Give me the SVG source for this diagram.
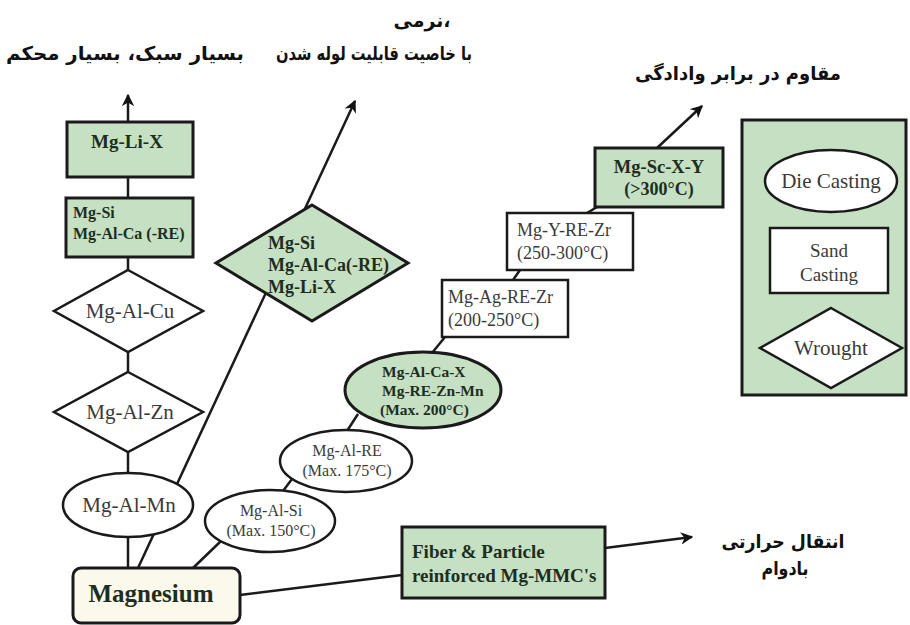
<svg xmlns="http://www.w3.org/2000/svg" width="910" height="625" viewBox="0 0 910 625">
<defs>
<marker id="ah" viewBox="0 0 10 10" refX="9" refY="5" markerWidth="5" markerHeight="5" orient="auto" markerUnits="strokeWidth">
<path d="M0,0 L10,5 L0,10 L3,5 z" fill="#111"/>
</marker>
<style>
.g{fill:#c6e0c4;stroke:#1a1a1a;stroke-width:3}
.w{fill:#fff;stroke:#1a1a1a;stroke-width:2.5}
.ln{stroke:#1a1a1a;stroke-width:2.5;fill:none}
.ar{stroke:#1a1a1a;stroke-width:2.5;fill:none;marker-end:url(#ah)}
.t{font-family:"Liberation Serif","Times New Roman",serif;fill:#3a3a3a}
.tb{font-family:"Liberation Serif","Times New Roman",serif;font-weight:bold;fill:#1e2e1e}
.fa{font-family:"DejaVu Sans","Noto Sans",sans-serif;font-weight:bold;fill:#111;font-size:19px}
</style>
</defs>
<rect width="910" height="625" fill="#fff"/>

<g id="connectors">
<line class="ar" x1="128" y1="122" x2="128" y2="95"/>
<line class="ln" x1="128" y1="177" x2="128" y2="198"/>
<line class="ln" x1="128" y1="257" x2="128" y2="270"/>
<line class="ln" x1="128" y1="352" x2="128" y2="372"/>
<line class="ln" x1="128" y1="452" x2="128" y2="473"/>
<line class="ln" x1="128" y1="537" x2="128" y2="568"/>
<line class="ar" x1="138" y1="568" x2="355" y2="101"/>
<line class="ln" x1="193" y1="568" x2="221" y2="541"/>
<line class="ln" x1="283" y1="491" x2="292" y2="479"/>
<line class="ln" x1="347" y1="431" x2="358" y2="414"/>
<line class="ln" x1="432" y1="353" x2="445" y2="337"/>
<line class="ln" x1="513" y1="280" x2="520" y2="270"/>
<line class="ln" x1="587" y1="213" x2="597" y2="207"/>
<line class="ar" x1="657" y1="148" x2="702" y2="106"/>
<line class="ln" x1="240" y1="595" x2="402" y2="575"/>
<line class="ar" x1="605" y1="548" x2="692" y2="537"/>
</g>

<g id="lbl-light">
<text class="fa" x="125" y="60" text-anchor="middle" textLength="238" lengthAdjust="spacingAndGlyphs">بسیار سبک، بسیار محکم</text>
</g>
<g id="lbl-ductile">
<text class="fa" x="422" y="27" text-anchor="middle">نرمی،</text>
<text class="fa" x="374" y="60" text-anchor="middle" textLength="196" lengthAdjust="spacingAndGlyphs">با خاصیت قابلیت لوله شدن</text>
</g>
<g id="lbl-creep">
<text class="fa" x="738" y="80" text-anchor="middle" textLength="206" lengthAdjust="spacingAndGlyphs">مقاوم در برابر وادادگی</text>
</g>
<g id="lbl-thermal">
<text class="fa" x="783" y="548" text-anchor="middle" textLength="123" lengthAdjust="spacingAndGlyphs">انتقال حرارتی</text>
<text class="fa" x="785" y="575" text-anchor="middle" textLength="47" lengthAdjust="spacingAndGlyphs">بادوام</text>
</g>

<g id="mg-li-x">
<rect class="g" x="67" y="122" width="126" height="55"/>
<text class="tb" x="127" y="148" text-anchor="middle" font-size="19">Mg-Li-X</text>
</g>
<g id="mg-si-box">
<rect class="g" x="66" y="198" width="127" height="59"/>
<text class="tb" x="73" y="218" font-size="16">Mg-Si</text>
<text class="tb" x="73" y="239" font-size="16">Mg-Al-Ca (-RE)</text>
</g>
<g id="mg-al-cu">
<polygon class="w" points="128,270 203,311 128,352 54,311"/>
<text class="t" x="130" y="318" text-anchor="middle" font-size="21">Mg-Al-Cu</text>
</g>
<g id="mg-al-zn">
<polygon class="w" points="128,372 203,412 128,452 54,412"/>
<text class="t" x="130" y="419" text-anchor="middle" font-size="21">Mg-Al-Zn</text>
</g>
<g id="mg-al-mn">
<ellipse class="w" cx="128" cy="505" rx="65" ry="32"/>
<text class="t" x="129" y="512" text-anchor="middle" font-size="21">Mg-Al-Mn</text>
</g>
<g id="magnesium">
<rect x="73" y="568" width="167" height="55" rx="8" fill="#fbf8ec" stroke="#1a1a1a" stroke-width="3"/>
<text class="tb" x="151" y="602" text-anchor="middle" font-size="25" fill="#111">Magnesium</text>
</g>
<g id="mg-si-diamond">
<polygon class="g" points="312,205 408,263 312,321 216,263"/>
<text class="tb" x="268" y="249" font-size="18">Mg-Si</text>
<text class="tb" x="268" y="271" font-size="18">Mg-Al-Ca(-RE)</text>
<text class="tb" x="268" y="293" font-size="18">Mg-Li-X</text>
</g>
<g id="mg-al-si">
<ellipse class="w" cx="270" cy="521" rx="65" ry="31"/>
<text class="t" x="271" y="516" text-anchor="middle" font-size="16">Mg-Al-Si</text>
<text class="t" x="271" y="536" text-anchor="middle" font-size="16">(Max.  150°C)</text>
</g>
<g id="mg-al-re">
<ellipse class="w" cx="346" cy="461" rx="66" ry="31"/>
<text class="t" x="347" y="456" text-anchor="middle" font-size="16">Mg-Al-RE</text>
<text class="t" x="347" y="476" text-anchor="middle" font-size="16">(Max.  175°C)</text>
</g>
<g id="mg-al-ca-x">
<ellipse class="g" cx="423" cy="390" rx="78" ry="38"/>
<text class="tb" x="382" y="377" font-size="15.5">Mg-Al-Ca-X</text>
<text class="tb" x="382" y="396" font-size="15.5">Mg-RE-Zn-Mn</text>
<text class="tb" x="380" y="415" font-size="15.5">(Max. 200°C)</text>
</g>
<g id="mg-ag-re-zr">
<rect class="w" x="442" y="280" width="126" height="57"/>
<text class="t" x="448" y="303" font-size="18">Mg-Ag-RE-Zr</text>
<text class="t" x="448" y="326" font-size="18">(200-250°C)</text>
</g>
<g id="mg-y-re-zr">
<rect class="w" x="507" y="213" width="126" height="57"/>
<text class="t" x="517" y="236" font-size="18">Mg-Y-RE-Zr</text>
<text class="t" x="517" y="259" font-size="18">(250-300°C)</text>
</g>
<g id="mg-sc-x-y">
<rect class="g" x="595" y="148" width="128" height="59"/>
<text class="tb" x="659" y="173" text-anchor="middle" font-size="18.5">Mg-Sc-X-Y</text>
<text class="tb" x="659" y="195" text-anchor="middle" font-size="18">(&gt;300°C)</text>
</g>
<g id="fiber">
<rect class="g" x="402" y="527" width="203" height="71"/>
<text class="tb" x="412" y="558" font-size="19">Fiber &amp; Particle</text>
<text class="tb" x="412" y="582" font-size="19">reinforced Mg-MMC's</text>
</g>
<g id="legend">
<rect class="g" x="742" y="120" width="164" height="275"/>
<g id="die-casting">
<ellipse class="w" cx="831" cy="181" rx="66" ry="31"/>
<text class="t" x="831" y="188" text-anchor="middle" font-size="21" fill="#222">Die Casting</text>
</g>
<g id="sand-casting">
<rect class="w" x="770" y="228" width="118" height="65"/>
<text class="t" x="829" y="257" text-anchor="middle" font-size="19">Sand</text>
<text class="t" x="829" y="281" text-anchor="middle" font-size="19">Casting</text>
</g>
<g id="wrought">
<polygon class="w" points="831,308 902,348 831,388 760,348"/>
<text class="t" x="831" y="355" text-anchor="middle" font-size="21">Wrought</text>
</g>
</g>
</svg>
